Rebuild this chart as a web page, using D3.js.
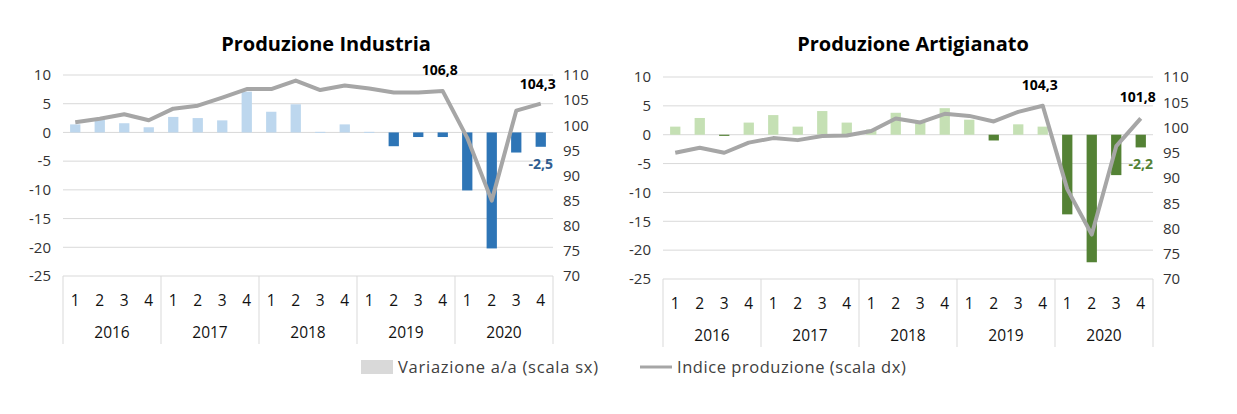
<!DOCTYPE html>
<html><head><meta charset="utf-8">
<script src="https://cdn.jsdelivr.net/npm/d3@7"></script>
<style>body{margin:0;background:#fff}svg{display:block}</style>
</head><body>
<svg id="c" width="1237" height="414"></svg>
<script>
const years = ["2016","2017","2018","2019","2020"];
const quarters = ["1","2","3","4"];
const leftTicks = [10,5,0,-5,-10,-15,-20,-25];
const rightTicks = [110,105,100,95,90,85,80,75,70];

const indVar = [1.4,2.3,1.6,0.9, 2.7,2.5,2.1,7.1, 3.6,4.9,0.1,1.4, 0.1,-2.4,-0.8,-0.8, -10.1,-20.2,-3.5,-2.5];
const indIdx = [100.6,101.3,102.2,101.0, 103.3,103.9,105.5,107.2, 107.2,108.9,107.0,107.9, 107.3,106.5,106.5,106.8, 97.5,85.0,102.9,104.3];
const artVar = [1.4,2.9,-0.2,2.1, 3.4,1.4,4.1,2.1, 0.9,3.8,2.3,4.6, 2.6,-1.0,1.8,1.4, -13.8,-22.1,-7.0,-2.2];
const artIdx = [95.0,96.0,95.0,97.0, 97.9,97.5,98.3,98.4, 99.3,101.8,101.0,102.7, 102.3,101.2,103.1,104.3, 87.8,78.8,96.3,101.8];

const svg = d3.select("#c");
const fmt = v => String(v).replace(".", ",");
const font = "'Open Sans', sans-serif";
const txt = "#404040";

function chart(cfg){
  const g = svg.append("g");
  const periods = d3.range(20);
  const x = d3.scaleBand().domain(periods).range([cfg.x0, cfg.x1]).paddingInner(0.58).paddingOuter(0.29);
  const yL = d3.scaleLinear().domain([-25,10]).range([cfg.yb, cfg.yt]);
  const yR = d3.scaleLinear().domain([70,110]).range([cfg.yb, cfg.yt]);

  g.append("text").attr("x",cfg.tx).attr("y",51).attr("text-anchor","middle")
    .attr("font-family",font).attr("font-weight","bold").attr("font-size",20).attr("fill","#000").text(cfg.title);

  g.selectAll(".grid").data(leftTicks).join("line")
    .attr("x1",cfg.x0).attr("x2",cfg.x1).attr("y1",d=>yL(d)).attr("y2",d=>yL(d))
    .attr("stroke","#d9d9d9").attr("stroke-width",1);

  const axL = g.append("g").attr("transform",`translate(${cfg.x0-12},0)`)
    .call(d3.axisLeft(yL).tickValues(leftTicks).tickSize(0).tickPadding(0).tickFormat(d=>d));
  axL.select(".domain").remove();
  axL.selectAll("text").attr("font-family",font).attr("font-size",15).attr("fill","#333");

  const axR = g.append("g").attr("transform",`translate(${cfg.x1+10},0)`)
    .call(d3.axisRight(yR).tickValues(rightTicks).tickSize(0).tickPadding(0).tickFormat(d=>d));
  axR.select(".domain").remove();
  axR.selectAll("text").attr("font-family",font).attr("font-size",15).attr("fill","#333");

  g.selectAll(".bar").data(cfg.vars).join("rect")
    .attr("x",(d,i)=>x(i)).attr("width",x.bandwidth())
    .attr("y",d=>yL(Math.max(0,d))).attr("height",d=>Math.max(1,Math.abs(yL(d)-yL(0))))
    .attr("fill",d=>d>=0?cfg.light:cfg.dark);

  g.append("path").datum(cfg.idx)
    .attr("d",d3.line().x((d,i)=>x(i)+x.bandwidth()/2).y(d=>yR(d)))
    .attr("fill","none").attr("stroke","#a6a6a6").attr("stroke-width",4).attr("stroke-linejoin","round");

  const yearW = (cfg.x1-cfg.x0)/years.length;
  const bottom = cfg.yb+68;
  g.selectAll(".div").data(d3.range(years.length+1)).join("line")
    .attr("x1",i=>cfg.x0+i*yearW).attr("x2",i=>cfg.x0+i*yearW)
    .attr("y1",cfg.yb).attr("y2",bottom).attr("stroke","#d9d9d9");
  g.selectAll(".q").data(periods).join("text")
    .attr("x",i=>x(i)+x.bandwidth()/2).attr("y",cfg.yb+30).attr("text-anchor","middle")
    .attr("font-family",font).attr("font-size",15.5).attr("fill","#111").text(i=>quarters[i%4]);
  g.selectAll(".yr").data(years).join("text")
    .attr("x",(d,i)=>cfg.x0+(i+0.5)*yearW).attr("y",cfg.yb+62).attr("text-anchor","middle")
    .attr("font-family",font).attr("font-size",15.5).attr("fill","#111").text(d=>d);

  cfg.labels.forEach(l=>{
    const cx = x(l.i)+x.bandwidth()/2;
    if(l.type==="idx"){
      g.append("text").attr("x",cx-3).attr("y",yR(cfg.idx[l.i])+l.dy).attr("text-anchor","middle")
        .attr("font-family",font).attr("font-weight","bold").attr("font-size",14).attr("fill","#000")
        .text(fmt(cfg.idx[l.i]));
    } else {
      g.append("text").attr("x",cx+l.dx).attr("y",yL(cfg.vars[l.i])+l.dy).attr("text-anchor","middle")
        .attr("font-family",font).attr("font-weight","bold").attr("font-size",14).attr("fill",cfg.labelColor)
        .text(fmt(cfg.vars[l.i]));
    }
  });
}

chart({title:"Produzione Industria", tx:326, x0:63, x1:553, yt:75, yb:276, vars:indVar, idx:indIdx,
  light:"#bdd7ee", dark:"#2e75b6", labelColor:"#2f5d8f",
  labels:[{type:"idx",i:15,dy:-16},{type:"idx",i:19,dy:-15},{type:"var",i:19,dx:0,dy:22}]});
chart({title:"Produzione Artigianato", tx:913, x0:663, x1:1153, yt:77, yb:279, vars:artVar, idx:artIdx,
  light:"#c5e0b4", dark:"#548235", labelColor:"#548235",
  labels:[{type:"idx",i:15,dy:-16},{type:"idx",i:19,dy:-16},{type:"var",i:19,dx:0,dy:22}]});

const lg = svg.append("g");
lg.append("rect").attr("x",361).attr("y",360).attr("width",32).attr("height",14).attr("fill","#d9d9d9");
lg.append("text").attr("x",398).attr("y",373).attr("font-family",font).attr("font-size",16.5)
  .attr("letter-spacing",0.75).attr("fill",txt).text("Variazione a/a (scala sx)");
lg.append("line").attr("x1",640).attr("x2",672).attr("y1",367).attr("y2",367).attr("stroke","#a6a6a6").attr("stroke-width",3);
lg.append("text").attr("x",677).attr("y",373).attr("font-family",font).attr("font-size",16.5)
  .attr("letter-spacing",0.55).attr("fill",txt).text("Indice produzione (scala dx)");
</script>
</body></html>
